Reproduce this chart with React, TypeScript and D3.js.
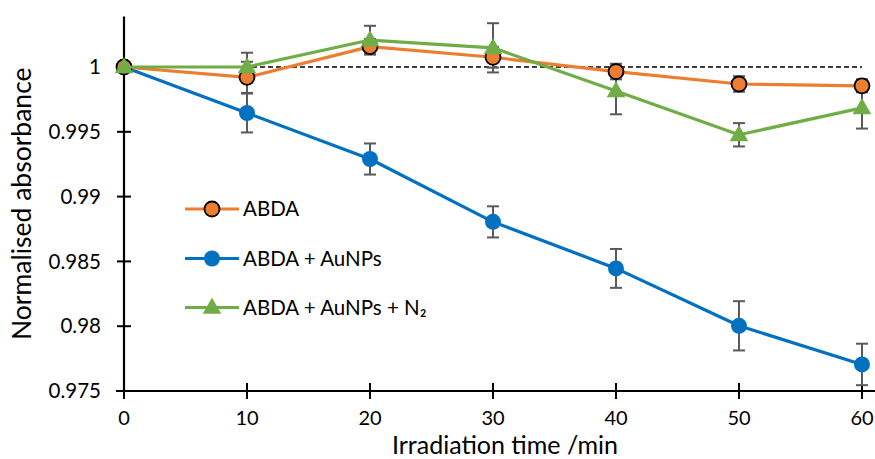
import React from "react";
import * as d3 from "d3";

const times = [0, 10, 20, 30, 40, 50, 60];
const abda = [1.0, 0.9992, 1.00157, 1.00075, 0.99965, 0.99869, 0.99855];
const abdaErr = [0, 0.0012, 0.0006, 0.0008, 0.0006, 0.0006, 0.0005];
const auNPs = [1.0, 0.99645, 0.9929, 0.98805, 0.98446, 0.98003, 0.97705];
const auNPsErr = [0, 0.0015, 0.0012, 0.0012, 0.0015, 0.0019, 0.0016];
const auN2 = [1.0, 1.0, 1.00208, 1.00148, 0.99815, 0.99477, 0.99685];
const auN2Err = [0, 0.0011, 0.0011, 0.0019, 0.0018, 0.0009, 0.0016];
const yTicks = [0.975, 0.98, 0.985, 0.99, 0.995, 1];
const xTicks = [0, 10, 20, 30, 40, 50, 60];
const seriesNames = ["ABDA", "ABDA + AuNPs", "ABDA + AuNPs + N\u2082"];

const W = 875;
const H = 459;
const FONT = "Lato, 'Open Sans', sans-serif";

export default function App() {
  const x = d3.scaleLinear().domain([0, 60]).range([124, 862]);
  const y = d3.scaleLinear().domain([0.975, 1]).range([391, 67]);
  const x0 = x(0);
  const xEnd = x(61.1);
  const yTop = y(1.0039);
  const line = d3
    .line<number>()
    .x((_, i) => x(times[i]))
    .y((d) => y(d));

  const series = [
    { name: seriesNames[0], vals: abda, err: abdaErr, color: "#ED7D31", marker: "oc" },
    { name: seriesNames[1], vals: auNPs, err: auNPsErr, color: "#0070C0", marker: "c" },
    { name: seriesNames[2], vals: auN2, err: auN2Err, color: "#70AD47", marker: "t" },
  ];
  const drawOrder = [1, 0, 2];
  const tri = d3.symbol().type(d3.symbolTriangle).size(150);

  const marker = (s: any, cx: number, cy: number, key: string) => {
    if (s.marker === "oc")
      return <circle key={key} cx={cx} cy={cy} r={7.5} fill={s.color} stroke="#000" strokeWidth={1.8} />;
    if (s.marker === "c") return <circle key={key} cx={cx} cy={cy} r={8} fill={s.color} />;
    return <path key={key} d={tri() as string} transform={`translate(${cx},${cy + 1})`} fill={s.color} />;
  };

  const legendY = [209, 258.5, 307.5];

  return (
    <svg width={W} height={H} style={{ position: "absolute", left: 0, top: 0, background: "#fff" }}>
      {/* dashed reference line */}
      <line x1={x0} x2={x(60)} y1={y(1)} y2={y(1)} stroke="#000" strokeWidth={1.4} strokeDasharray="5,3" />
      {/* axes */}
      <line x1={x0} x2={x0} y1={yTop} y2={y(0.975)} stroke="#000" strokeWidth={2.2} />
      <line x1={x0 - 8} x2={xEnd} y1={y(0.975)} y2={y(0.975)} stroke="#000" strokeWidth={2.2} />
      {yTicks.map((t) => (
        <g key={"yt" + t}>
          <line x1={x0 - 7} x2={x0 + 7} y1={y(t)} y2={y(t)} stroke="#000" strokeWidth={2} />
          <text x={101} y={y(t)} dy="0.35em" textAnchor="end" fontFamily={FONT} fontSize={20.5} fill="#000">
            {String(t)}
          </text>
        </g>
      ))}
      {xTicks.map((t) => (
        <g key={"xt" + t}>
          <line x1={x(t)} x2={x(t)} y1={y(0.975) - 8} y2={y(0.975) + 8} stroke="#000" strokeWidth={2} />
          <text x={x(t)} y={425} textAnchor="middle" fontFamily={FONT} fontSize={20} fill="#000">
            {t}
          </text>
        </g>
      ))}
      <text
        transform={`translate(31,${(yTop + y(0.975)) / 2}) rotate(-90)`}
        textAnchor="middle"
        fontFamily={FONT}
        fontSize={26.5}
        fill="#000"
      >
        Normalised absorbance
      </text>
      <text x={505} y={454} textAnchor="middle" fontFamily={FONT} fontSize={25} fill="#000">
        Irradiation time /min
      </text>

      {/* error bars */}
      {drawOrder.map((si) => {
        const s = series[si];
        return (
          <g key={"eb" + si} stroke="#595959" strokeWidth={2}>
            {s.vals.map((v, i) =>
              s.err[i] > 0 ? (
                <g key={i}>
                  <line x1={x(times[i])} x2={x(times[i])} y1={y(v - s.err[i])} y2={y(v + s.err[i])} />
                  <line x1={x(times[i]) - 6} x2={x(times[i]) + 6} y1={y(v - s.err[i])} y2={y(v - s.err[i])} />
                  <line x1={x(times[i]) - 6} x2={x(times[i]) + 6} y1={y(v + s.err[i])} y2={y(v + s.err[i])} />
                </g>
              ) : null
            )}
          </g>
        );
      })}
      {/* lines and markers */}
      {drawOrder.map((si) => {
        const s = series[si];
        return (
          <g key={"s" + si}>
            <path d={line(s.vals) as string} fill="none" stroke={s.color} strokeWidth={3.2} strokeLinejoin="round" />
            {s.vals.map((v, i) => marker(s, x(times[i]), y(v), "m" + i))}
          </g>
        );
      })}

      {/* legend */}
      {series.map((s, i) => (
        <g key={"lg" + i}>
          <line x1={185} x2={239} y1={legendY[i]} y2={legendY[i]} stroke={s.color} strokeWidth={3.2} />
          {marker(s, 212, legendY[i], "lm" + i)}
          <text x={243} y={legendY[i]} dy="0.35em" fontFamily={FONT} fontSize={20.5} fill="#000">
            {s.name}
          </text>
        </g>
      ))}
    </svg>
  );
}
